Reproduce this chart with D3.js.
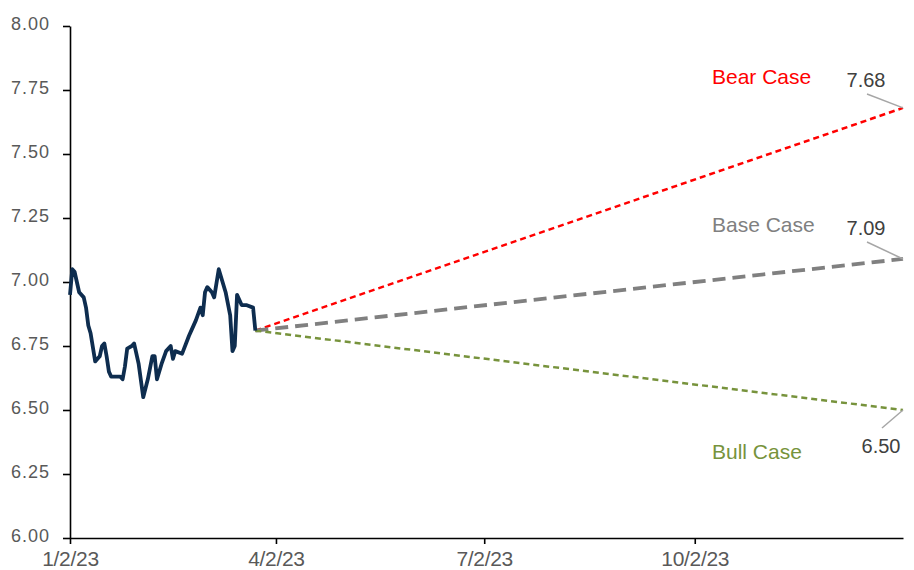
<!DOCTYPE html>
<html><head><meta charset="utf-8">
<script src="https://cdn.jsdelivr.net/npm/d3@7"></script>
<style>html,body{margin:0;padding:0;background:#fff;}svg{display:block;font-family:"Liberation Sans",Arial,sans-serif;}</style>
</head><body>
<svg id="chart" width="914" height="570"></svg>
<script>
// ---- data ----
const histDates = ["2023-01-02","2023-01-03","2023-01-04","2023-01-05","2023-01-06","2023-01-08","2023-01-09","2023-01-10","2023-01-11","2023-01-13","2023-01-15","2023-01-16","2023-01-17","2023-01-18","2023-01-19","2023-01-20","2023-01-24","2023-01-25","2023-01-26","2023-01-27","2023-01-29","2023-01-30","2023-02-01","2023-02-03","2023-02-05","2023-02-07","2023-02-08","2023-02-09","2023-02-11","2023-02-13","2023-02-14","2023-02-15","2023-02-16","2023-02-17","2023-02-20","2023-02-23","2023-02-24","2023-02-26","2023-02-28","2023-03-01","2023-03-02","2023-03-03","2023-03-05","2023-03-06","2023-03-08","2023-03-11","2023-03-13","2023-03-14","2023-03-15","2023-03-16","2023-03-18","2023-03-20","2023-03-23","2023-03-24"];
const histValues = [6.95,7.05,7.04,7.00,6.96,6.94,6.90,6.83,6.80,6.69,6.71,6.75,6.76,6.71,6.65,6.63,6.63,6.62,6.67,6.74,6.75,6.76,6.68,6.55,6.62,6.71,6.71,6.62,6.68,6.73,6.74,6.75,6.70,6.73,6.72,6.79,6.81,6.85,6.90,6.87,6.96,6.98,6.96,6.94,7.05,6.96,6.87,6.73,6.75,6.95,6.91,6.91,6.90,6.81];
const scenarioNames = ["Bear Case","Base Case","Bull Case"];
const scenarioStart = ["2023-03-24", 6.81];
const scenarioEndDate = "2024-01-01";
const scenarioEndValues = [7.68, 7.09, 6.50];
const scenarioEndLabels = ["7.68","7.09","6.50"];
const yTicks = [6.00,6.25,6.50,6.75,7.00,7.25,7.50,7.75,8.00];
const xTickDates = ["2023-01-02","2023-04-02","2023-07-02","2023-10-02"];
const xTickLabels = ["1/2/23","4/2/23","7/2/23","10/2/23"];

// ---- styles ----
const scenarioColors = ["#ff0000","#808080","#77933c"];
const scenarioWidths = [2.5,3.8,2.5];
const scenarioDash = ["6,4","13,7","6,4"];
const labelPos = [{x:712,y:84},{x:712,y:232},{x:712,y:459}];
const valPos = [{x:866,y:87,lx:867,ly:94},{x:866,y:235,lx:867,ly:242},{x:881,y:453,lx:882,ly:428}];

const parse = d3.utcParse("%Y-%m-%d");
const svg = d3.select("#chart");
const m = {left:70, top:26, right:11, bottom:32};
const W = 914, H = 570;
const x = d3.scaleUtc().domain([parse("2023-01-02"), parse(scenarioEndDate)]).range([m.left, W - m.right]);
const y = d3.scaleLinear().domain([6, 8]).range([H - m.bottom, m.top]);

// axes
const xAxis = d3.axisBottom(x).tickValues(xTickDates.map(parse)).tickSize(6).tickSizeOuter(0)
  .tickFormat((d,i)=>xTickLabels[i]);
const gx = svg.append("g").attr("transform",`translate(0,${y(6)})`).call(xAxis);
gx.select(".domain").attr("stroke","#000").attr("stroke-width",1.6);
gx.selectAll(".tick line").attr("stroke","#000").attr("stroke-width",1.6);
gx.selectAll(".tick text").attr("font-size",21).attr("fill","#595959").attr("y",13).attr("dy","0.71em")
  .attr("font-family","Liberation Sans, Arial, sans-serif").attr("letter-spacing","-0.3px");

const yAxis = d3.axisLeft(y).tickValues(yTicks).tickSize(7).tickSizeOuter(0).tickFormat(d3.format(".2f"));
const gy = svg.append("g").attr("transform",`translate(${m.left},0)`).call(yAxis);
gy.select(".domain").attr("stroke","#000").attr("stroke-width",1.6);
gy.selectAll(".tick line").attr("stroke","#000").attr("stroke-width",1.6);
gy.selectAll(".tick text").attr("font-size",18).attr("fill","#595959").attr("x",-20).attr("dy","0.2em")
  .attr("font-family","Liberation Sans, Arial, sans-serif").attr("letter-spacing","1px");

// scenarios
const startPt = [parse(scenarioStart[0]), scenarioStart[1]];
scenarioEndValues.forEach((v,i)=>{
  const data = [startPt, [parse(scenarioEndDate), v]];
  svg.append("path").datum(data)
    .attr("d", d3.line().x(d=>x(d[0])).y(d=>y(d[1])))
    .attr("fill","none").attr("stroke",scenarioColors[i]).attr("stroke-width",scenarioWidths[i])
    .attr("stroke-dasharray",scenarioDash[i]);
  // leader
  svg.append("line").attr("x1",x(parse(scenarioEndDate))).attr("y1",y(v))
    .attr("x2",valPos[i].lx).attr("y2",valPos[i].ly).attr("stroke","#a6a6a6").attr("stroke-width",1.5);
  svg.append("text").attr("x",valPos[i].x).attr("y",valPos[i].y).attr("text-anchor","middle")
    .attr("font-size",20).attr("fill","#404040").text(scenarioEndLabels[i]);
  svg.append("text").attr("x",labelPos[i].x).attr("y",labelPos[i].y)
    .attr("font-size",21).attr("fill",scenarioColors[i]).text(scenarioNames[i]);
});

// history
const hist = histDates.map((d,i)=>[parse(d), histValues[i]]);
svg.append("path").datum(hist)
  .attr("d", d3.line().x(d=>x(d[0])).y(d=>y(d[1])))
  .attr("fill","none").attr("stroke","#0e2d4f").attr("stroke-width",3.8).attr("stroke-linejoin","round");
</script>
</body></html>
